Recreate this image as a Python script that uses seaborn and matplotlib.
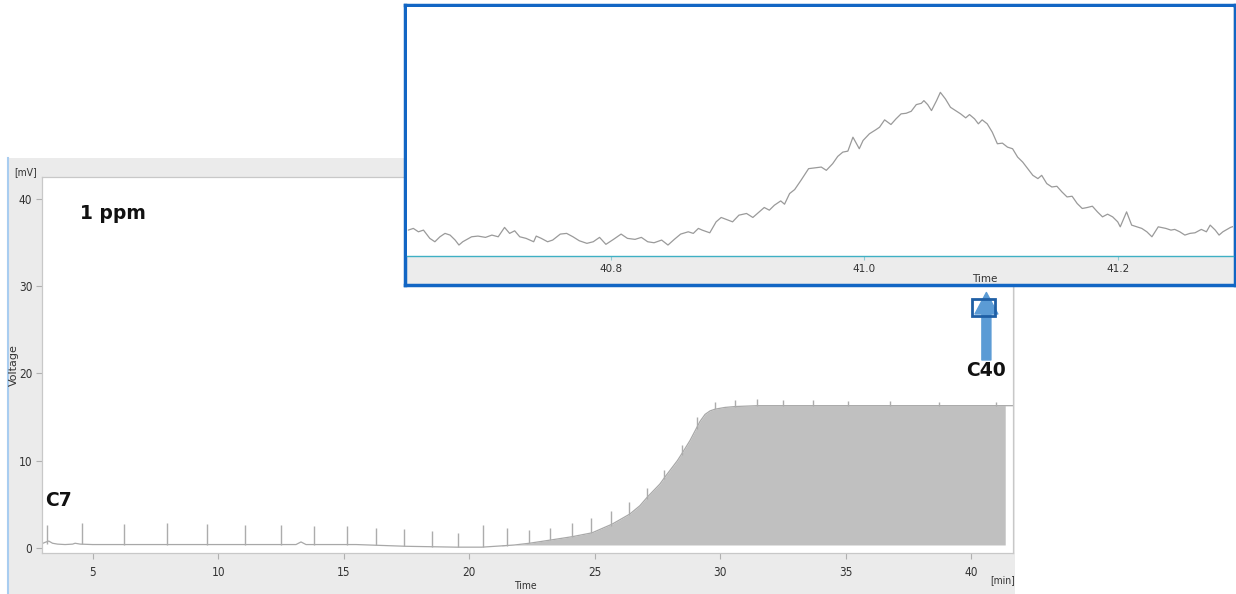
import numpy as np
import seaborn as sns
import matplotlib.pyplot as plt

# main chromatogram: baseline / envelope (min, mV)
base_time = [2.98, 3.1, 3.25, 3.4, 3.6, 3.9, 4.2, 4.3, 4.5, 5.0, 8.0, 11.0, 13.1, 13.3, 13.5,
             15.5, 16.5, 17.5, 18.5, 19.5, 20.5, 21.3, 21.8, 22.4, 23.2, 24.1, 24.9, 25.7,
             26.4, 26.8, 27.1, 27.6, 27.8, 28.3, 28.5, 28.8, 29.0, 29.2, 29.4, 29.6, 29.8,
             30.2, 30.6, 31.5, 35.0, 38.0, 41.36, 41.67]
base_mv = [0.45, 0.6, 0.75, 0.5, 0.4, 0.35, 0.4, 0.5, 0.4, 0.35, 0.35, 0.35, 0.35, 0.65, 0.35,
           0.35, 0.25, 0.15, 0.1, 0.05, 0.05, 0.2, 0.3, 0.5, 0.85, 1.25, 1.7, 2.7,
           3.85, 4.8, 5.8, 7.3, 8.1, 10.0, 10.9, 12.3, 13.4, 14.5, 15.3, 15.7, 15.9,
           16.1, 16.2, 16.3, 16.3, 16.3, 16.3, 16.3]

# spikes (retention time, foot level, apex level)
peak_time = [3.17, 4.59, 6.26, 7.95, 9.57, 11.08, 12.50, 13.83, 15.12, 16.29, 17.40, 18.53,
             19.56, 20.54, 21.49, 22.37, 23.23, 24.08, 24.87, 25.65, 26.38, 27.10, 27.78,
             28.47, 29.08, 29.81, 30.59, 31.47, 32.52, 33.72, 35.11, 36.76, 38.73, 41.0]
peak_base = [0.45, 0.4, 0.35, 0.35, 0.35, 0.35, 0.35, 0.35, 0.35, 0.3, 0.15, 0.1,
             0.05, 0.05, 0.2, 0.5, 0.85, 1.2, 1.65, 2.5, 3.8, 5.6, 7.9,
             10.6, 13.6, 15.9, 16.2, 16.3, 16.3, 16.3, 16.3, 16.3, 16.3, 16.3]
peak_top = [2.6, 2.8, 2.7, 2.8, 2.7, 2.6, 2.6, 2.5, 2.5, 2.2, 2.1, 1.85,
            1.7, 2.6, 2.2, 2.0, 2.3, 2.8, 3.35, 4.2, 5.2, 6.8, 8.9,
            11.8, 15.0, 16.7, 16.9, 17.1, 16.9, 16.9, 16.8, 16.8, 16.7, 16.7]

# zoomed C40 peak (min, relative signal)
zoom_time = [40.640, 40.644, 40.648, 40.652, 40.657, 40.661, 40.665, 40.669, 40.673, 40.677,
             40.680, 40.683, 40.690, 40.695, 40.701, 40.706, 40.711, 40.716, 40.720, 40.724,
             40.728, 40.733, 40.739, 40.741, 40.745, 40.750, 40.754, 40.760, 40.765, 40.770,
             40.775, 40.781, 40.786, 40.791, 40.796, 40.802, 40.808, 40.813, 40.819, 40.824,
             40.829, 40.834, 40.840, 40.845, 40.850, 40.855, 40.861, 40.865, 40.869, 40.872,
             40.878, 40.883, 40.887, 40.891, 40.896, 40.901, 40.907, 40.912, 40.917, 40.921,
             40.925, 40.929, 40.934, 40.937, 40.941, 40.945, 40.950, 40.956, 40.962, 40.966,
             40.970, 40.975, 40.979, 40.983, 40.987, 40.991, 40.996, 40.999, 41.004, 41.009,
             41.012, 41.016, 41.021, 41.025, 41.029, 41.033, 41.037, 41.041, 41.045, 41.047,
             41.050, 41.053, 41.057, 41.060, 41.064, 41.068, 41.072, 41.076, 41.080, 41.083,
             41.087, 41.090, 41.093, 41.097, 41.101, 41.105, 41.109, 41.113, 41.117, 41.121,
             41.125, 41.129, 41.133, 41.137, 41.140, 41.144, 41.148, 41.152, 41.156, 41.160,
             41.164, 41.168, 41.172, 41.176, 41.180, 41.184, 41.188, 41.192, 41.196, 41.200,
             41.202, 41.207, 41.211, 41.215, 41.219, 41.223, 41.227, 41.232, 41.238, 41.242,
             41.245, 41.249, 41.253, 41.257, 41.261, 41.266, 41.270, 41.273, 41.277, 41.280,
             41.283, 41.289, 41.292]
zoom_signal = [2.60, 2.77, 2.43, 2.60, 1.77, 1.43, 1.93, 2.27, 2.10, 1.60,
               1.10, 1.43, 1.93, 2.00, 1.87, 2.10, 1.93, 2.87, 2.27, 2.53,
               1.93, 1.77, 1.43, 2.00, 1.77, 1.43, 1.60, 2.20, 2.27, 1.93,
               1.53, 1.27, 1.43, 1.87, 1.17, 1.67, 2.20, 1.77, 1.67, 1.87,
               1.43, 1.33, 1.60, 1.10, 1.67, 2.20, 2.43, 2.27, 2.77, 2.60,
               2.33, 3.43, 3.87, 3.67, 3.43, 4.10, 4.27, 3.87, 4.43, 4.87,
               4.60, 5.10, 5.53, 5.20, 6.27, 6.67, 7.60, 8.77, 8.87, 8.93,
               8.60, 9.27, 10.00, 10.43, 10.53, 11.93, 10.77, 11.60, 12.27, 12.67,
               12.93, 13.67, 13.20, 13.77, 14.27, 14.33, 14.53, 15.20, 15.33, 15.60,
               15.20, 14.60, 15.60, 16.43, 15.77, 14.93, 14.60, 14.27, 13.87, 14.20,
               13.77, 13.27, 13.67, 13.27, 12.43, 11.27, 11.33, 10.93, 10.77, 9.93,
               9.43, 8.77, 8.10, 7.77, 8.10, 7.27, 6.93, 7.00, 6.43, 5.93,
               6.00, 5.27, 4.77, 4.87, 5.00, 4.43, 3.93, 4.20, 3.93, 3.43,
               2.93, 4.43, 3.10, 2.93, 2.77, 2.43, 1.93, 2.93, 2.77, 2.60,
               2.67, 2.43, 2.10, 2.27, 2.33, 2.67, 2.43, 3.10, 2.60, 2.10,
               2.43, 2.87, 3.00]

main_xticks = [5, 10, 15, 20, 25, 30, 35, 40]
main_yticks = [0, 10, 20, 30, 40]
zoom_xticks = [40.8, 41.0, 41.2]
zoom_xticklabels = ['40.8', '41.0', '41.2']

sns.set_theme(style="white")
plt.rcParams['font.family'] = ['DejaVu Sans']

W, H = 1236, 594


def px_rect(x0, y0, x1, y1):
    return [x0 / W, 1 - y1 / H, (x1 - x0) / W, (y1 - y0) / H]


fig = plt.figure(figsize=(W / 100, H / 100), dpi=100)
fig.patch.set_facecolor('white')

# grey software panel behind the main chromatogram
panel = fig.add_axes(px_rect(8, 158, 1015, 594), zorder=0)
panel.set_facecolor('#ebebeb')
panel.set_xticks([])
panel.set_yticks([])
for side in ['top', 'right', 'bottom']:
    panel.spines[side].set_visible(False)
panel.spines['left'].set_color('#a9cdf0')
panel.spines['left'].set_linewidth(1.5)

ax = fig.add_axes(px_rect(42, 177, 1013, 553), zorder=1)
ax.set_facecolor('white')

base_time_arr = np.array(base_time)
ax.fill_between(base_time, 0.3, base_mv, where=(base_time_arr >= 21.3) & (base_time_arr <= 41.36),
                color='#c0c0c0', lw=0)
sns.lineplot(x=base_time, y=base_mv, ax=ax, color='#a8a8a8', lw=0.9,
             estimator=None, sort=False)
ax.vlines(peak_time, peak_base, peak_top, color='#acacac', lw=1.0)

ax.set_xlim(2.98, 41.67)
ax.set_ylim(-0.62, 42.56)
ax.set_xticks(main_xticks)
ax.set_yticks(main_yticks)
tick_font = dict(fontsize=8.5, fontstretch='condensed', color='#333333')
ax.set_xticklabels([str(v) for v in main_xticks], **tick_font)
ax.set_yticklabels([str(v) for v in main_yticks], **tick_font)
ax.tick_params(axis='both', direction='out', length=4, width=0.8, color='#b0b0b0', pad=3)
ax.tick_params(axis='x', pad=5)
ax.xaxis.set_ticks_position('bottom')
ax.yaxis.set_ticks_position('left')
for s in ax.spines.values():
    s.set_color('#c8c8c8')
    s.set_linewidth(0.9)
ax.set_xlabel('')
ax.set_ylabel('')
ax.text(-0.029, 0.5, 'Voltage', transform=ax.transAxes, rotation=90, ha='center', va='center',
        fontsize=8, color='#333333')
ax.text(-0.0165, 1.013, '[mV]', transform=ax.transAxes, ha='center', va='center',
        fontsize=7.5, fontstretch='condensed', color='#333333')
ax.text(0.498, -0.088, 'Time', transform=ax.transAxes, ha='center', va='center',
        fontsize=7.5, fontstretch='condensed', color='#333333')
ax.text(0.989, -0.072, '[min]', transform=ax.transAxes, ha='center', va='center',
        fontsize=7.5, fontstretch='condensed', color='#333333')

label_font = dict(fontsize=13.5, fontweight='bold', color='#111111', va='center')
ax.text(4.49, 38.4, '1 ppm', **label_font)
ax.text(3.10, 5.36, 'C7', **label_font)
ax.text(40.59, 20.3, 'C40', ha='center', **label_font)

# arrow pointing to the zoom window
ax.annotate('', xy=(40.61, 29.3), xytext=(40.61, 21.55),
            arrowprops=dict(arrowstyle='simple,head_length=1.55,head_width=1.65,tail_width=0.65',
                            color='#5b9bd5', shrinkA=0, shrinkB=0, mutation_scale=10))
ax.add_patch(plt.Rectangle((40.04, 26.55), 0.92, 1.95, fill=False, edgecolor='#1f5fa5',
                           lw=2, zorder=5))

# zoom window frame
frame = fig.add_axes(px_rect(405, 5, 1235, 285), zorder=2)
frame.set_facecolor('#ececec')
frame.set_xticks([])
frame.set_yticks([])
for s in frame.spines.values():
    s.set_color('#1266c4')
    s.set_linewidth(2.5)

inset = fig.add_axes(px_rect(407, 7, 1233, 256), zorder=3)
inset.set_facecolor('white')
sns.lineplot(x=zoom_time, y=zoom_signal, ax=inset, color='#9a9a9a', lw=0.9,
             estimator=None, sort=False)
inset.set_xlim(40.639, 41.291)
inset.set_ylim(0, 25)
inset.set_xticks(zoom_xticks)
inset.set_xticklabels(zoom_xticklabels, fontsize=7.5, color='#333333')
inset.set_yticks([])
inset.tick_params(axis='x', direction='out', length=3, width=0.8, color='#8fc9d4', pad=3)
inset.xaxis.set_ticks_position('bottom')
for side in ['top', 'right', 'left']:
    inset.spines[side].set_visible(False)
inset.spines['bottom'].set_color('#3fb0c4')
inset.spines['bottom'].set_linewidth(1.0)
inset.set_xlabel('')
inset.set_ylabel('')
inset.text(0.699, -0.092, 'Time', transform=inset.transAxes, ha='center', va='center',
           fontsize=7.5, color='#333333')

fig.savefig('out.png', dpi=100)
